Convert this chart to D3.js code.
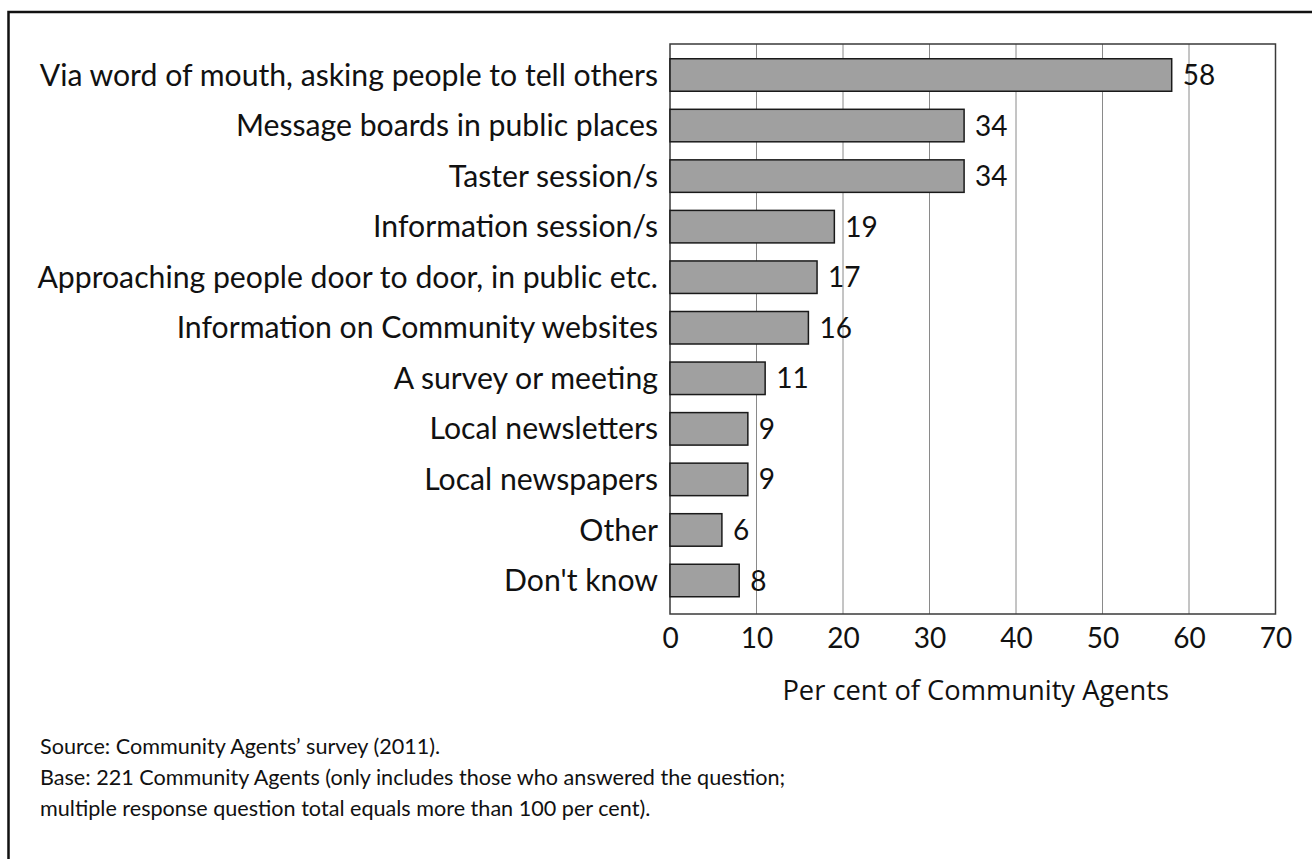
<!DOCTYPE html>
<html>
<head>
<meta charset="utf-8">
<script src="https://cdn.jsdelivr.net/npm/d3@7"></script>
<style>
  html, body { margin: 0; padding: 0; background: #fff; }
  svg { display: block; }
</style>
</head>
<body>
<svg id="chart" width="1312" height="859"></svg>
<script>
// Ways Community Agents promoted their activities
const categories = [
  "Via word of mouth, asking people to tell others",
  "Message boards in public places",
  "Taster session/s",
  "Information session/s",
  "Approaching people door to door, in public etc.",
  "Information on Community websites",
  "A survey or meeting",
  "Local newsletters",
  "Local newspapers",
  "Other",
  "Don't know"
];
const values = [58, 34, 34, 19, 17, 16, 11, 9, 9, 6, 8];
const xTicks = [0, 10, 20, 30, 40, 50, 60, 70];
const axisTitle = "Per cent of Community Agents";
const notes = [
  "Source: Community Agents\u2019 survey (2011).",
  "Base: 221 Community Agents (only includes those who answered the question;",
  "multiple response question total equals more than 100 per cent)."
];

const svg = d3.select("#chart");
const W = 1312, H = 859;
const plot = { left: 670, right: 1275.5, top: 44, bottom: 614 };
const textFont = "Lato, 'Open Sans', sans-serif";
const titleFont = "'Open Sans', 'Noto Sans', sans-serif";

const x = d3.scaleLinear().domain([0, 70]).range([plot.left, plot.right]);
const y = d3.scalePoint().domain(categories).range([75, 580.5]);
const barH = 32.5;

// outer frame (left and top edges)
svg.append("path")
  .attr("d", `M8.5,${H} V12 H${W}`)
  .attr("fill", "none")
  .attr("stroke", "#111")
  .attr("stroke-width", 2.5);

// vertical gridlines
svg.append("g")
  .selectAll("line")
  .data(xTicks.filter(t => t > 0 && t < 70))
  .join("line")
  .attr("x1", d => x(d)).attr("x2", d => x(d))
  .attr("y1", plot.top).attr("y2", plot.bottom)
  .attr("stroke", "#8a8a8a")
  .attr("stroke-width", 1);

// plot area border
svg.append("rect")
  .attr("x", plot.left).attr("y", plot.top)
  .attr("width", plot.right - plot.left)
  .attr("height", plot.bottom - plot.top)
  .attr("fill", "none")
  .attr("stroke", "#3a3a3a")
  .attr("stroke-width", 1.5);

// bars
svg.append("g")
  .selectAll("rect")
  .data(values)
  .join("rect")
  .attr("x", x(0))
  .attr("y", (d, i) => y(categories[i]) - barH / 2)
  .attr("width", d => x(d) - x(0))
  .attr("height", barH)
  .attr("fill", "#a0a0a0")
  .attr("stroke", "#1a1a1a")
  .attr("stroke-width", 1.5);

// value labels
svg.append("g")
  .selectAll("text")
  .data(values)
  .join("text")
  .attr("x", d => x(d) + 11)
  .attr("y", (d, i) => y(categories[i]))
  .attr("dy", "0.36em")
  .attr("font-family", textFont)
  .attr("font-size", 28)
  .attr("fill", "#111")
  .text(d => d);

// category labels
svg.append("g")
  .selectAll("text")
  .data(categories)
  .join("text")
  .attr("x", plot.left - 12)
  .attr("y", d => y(d))
  .attr("dy", "0.35em")
  .attr("text-anchor", "end")
  .attr("font-family", textFont)
  .attr("font-size", 30.2)
  .attr("fill", "#111")
  .text(d => d);

// x axis tick labels
const xAxis = svg.append("g")
  .attr("transform", `translate(0,${plot.bottom})`)
  .call(d3.axisBottom(x).tickValues(xTicks).tickSize(0).tickPadding(14));
xAxis.select(".domain").remove();
xAxis.selectAll("text")
  .attr("font-family", textFont)
  .attr("font-size", 28)
  .attr("fill", "#111");

// axis title
svg.append("text")
  .attr("x", (plot.left + plot.right) / 2 + 3)
  .attr("y", 700)
  .attr("text-anchor", "middle")
  .attr("font-family", titleFont)
  .attr("font-size", 27.3)
  .attr("fill", "#111")
  .text(axisTitle);

// source notes
svg.append("g")
  .selectAll("text")
  .data(notes)
  .join("text")
  .attr("x", 40)
  .attr("y", (d, i) => 754 + i * 31)
  .attr("font-family", textFont)
  .attr("font-size", 21.6)
  .attr("fill", "#111")
  .text(d => d);
</script>
</body>
</html>
